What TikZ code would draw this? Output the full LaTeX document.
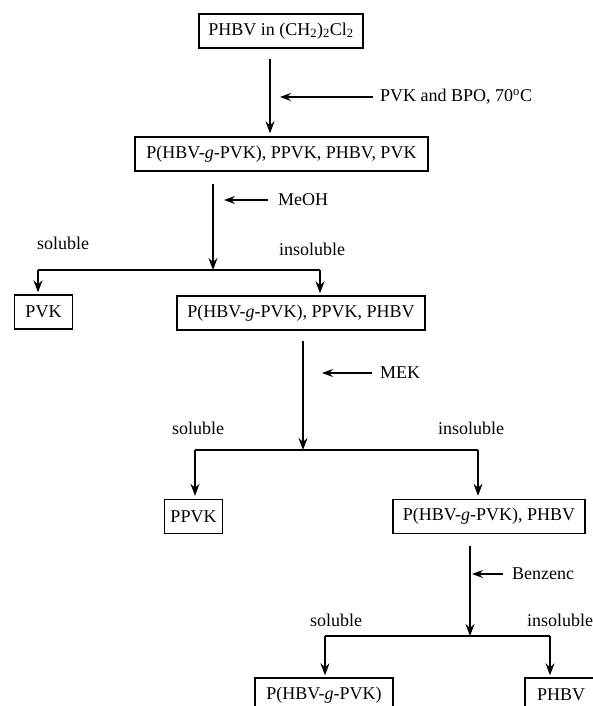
\documentclass[tikz,border=0pt]{standalone}
\usepackage{fontspec}
\setmainfont{Liberation Serif}
\usetikzlibrary{arrows.meta}
\begin{document}
\begin{tikzpicture}[x=1pt,y=-1pt,
  txt/.style={font=\fontsize{18}{21}\selectfont},
  box/.style={txt,draw,line width=1.4pt,minimum height=34pt,inner sep=0pt},
  lbl/.style={txt,anchor=west,inner sep=0pt},
  line/.style={line width=1.2pt},
  arr/.style={line,-{Stealth[length=12pt,width=9pt,inset=4pt]}},
  sarr/.style={line,-{Stealth[length=11pt,width=8pt,inset=4pt]}}]
\useasboundingbox (0,0) rectangle (593,706);
\clip (0,0) rectangle (593,706);
% boxes
\node[box,minimum width=164pt] (b1) at (281,31) {PHBV in (CH\textsubscript{2})\textsubscript{2}Cl\textsubscript{2}};
\node[box,minimum width=293pt] (b2) at (281.5,154) {P(HBV-\textit{g}-PVK), PPVK, PHBV, PVK};
\node[box,minimum width=58pt] (pvk) at (43.5,312) {PVK};
\node[box,minimum width=248pt] (b3) at (301,313) {P(HBV-\textit{g}-PVK), PPVK, PHBV};
\node[box,minimum width=58pt] (ppvk) at (193.5,516.5) {PPVK};
\node[box,minimum width=192pt] (b4) at (489,516.5) {P(HBV-\textit{g}-PVK), PHBV};
\node[box,minimum width=138pt] (b5) at (324,695) {P(HBV-\textit{g}-PVK)};
\node[box,minimum width=72pt] (b6) at (561,695) {PHBV};
% reagent labels
\node[lbl] (r1) at (380,97) {PVK and BPO, 70\textsuperscript{o}C};
\node[lbl] (r2) at (278,200) {MeOH};
\node[lbl] (r3) at (380,373) {MEK};
\node[lbl] (r4) at (512,574) {Benzenc};
% soluble / insoluble labels
\node[lbl] (s1) at (37,243) {soluble};
\node[lbl] (i1) at (279,249) {insoluble};
\node[lbl] (s2) at (172,428) {soluble};
\node[lbl] (i2) at (438,428) {insoluble};
\node[lbl] (s3) at (310,620) {soluble};
\node[lbl] (i3) at (527,620) {insoluble};
% coordinates
\coordinate (c1) at (270,0);
\coordinate (t1) at (280,97);
\coordinate (t2) at (224,200);
\coordinate (t3) at (322,373);
\coordinate (t4) at (472,574);
\coordinate (j1) at (213,270);
\coordinate (l1) at (38,270);
\coordinate (m1) at (320,270);
\coordinate (j2) at (303,450);
\coordinate (l2) at (195,450);
\coordinate (m2) at (478,450);
\coordinate (j3) at (470,636);
\coordinate (l3) at (325,636);
\coordinate (m3) at (550,636);
% step 1
\draw[arr,shorten <=10pt,shorten >=3pt] (b1.south -| c1) -- (b2.north -| c1);
\draw[sarr,shorten <=7pt] (r1.west) -- (t1);
% step 2
\draw[arr,shorten <=12pt] (b2.south -| j1) -- (j1);
\draw[sarr,shorten <=10pt] (r2.west) -- (t2);
\draw[line] (l1) -- (m1);
\draw[arr,shorten >=2pt] (l1) -- (pvk.north -| l1);
\draw[arr,shorten >=2pt] (m1) -- (b3.north -| m1);
% step 3
\draw[arr,shorten <=10pt] (b3.south -| j2) -- (j2);
\draw[sarr,shorten <=8pt] (r3.west) -- (t3);
\draw[line] (l2) -- (m2);
\draw[arr,shorten >=3pt] (l2) -- (ppvk.north -| l2);
\draw[arr,shorten >=3pt] (m2) -- (b4.north -| m2);
% step 4
\draw[arr,shorten <=12pt] (b4.south -| j3) -- (j3);
\draw[sarr,shorten <=9pt] (r4.west) -- (t4);
\draw[line] (l3) -- (m3);
\draw[arr,shorten >=2pt] (l3) -- (b5.north -| l3);
\draw[arr,shorten >=2pt] (m3) -- (b6.north -| m3);
\end{tikzpicture}
\end{document}
